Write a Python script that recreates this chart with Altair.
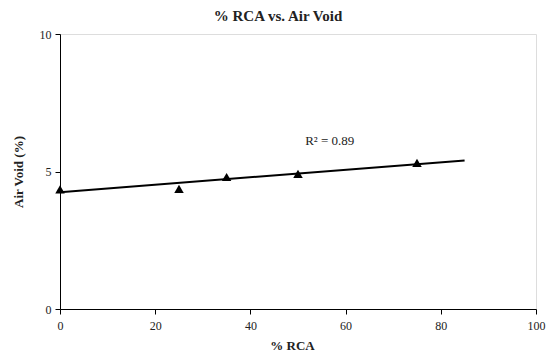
import altair as alt
import pandas as pd

rca = [0, 25, 35, 50, 75]
air_void = [4.35, 4.37, 4.80, 4.91, 5.31]
x_ticks = [0, 20, 40, 60, 80, 100]
y_ticks = [0, 5, 10]
r2_label = ["R² = 0.89"]
r2_pos_x = [51.5]
r2_pos_y = [6.1]

df = pd.DataFrame({"rca": rca, "av": air_void})
lab = pd.DataFrame({"x": r2_pos_x, "y": r2_pos_y, "t": r2_label})

FONT = "Liberation Serif"

xs = alt.Scale(domain=[0, 100], nice=False)
ys = alt.Scale(domain=[0, 10], nice=False)

xax = alt.Axis(values=x_ticks, grid=False, domainColor="black", tickColor="black",
               labelFont=FONT, labelFontSize=12, labelColor="#222", tickSize=5,
               titleFont=FONT, titleFontSize=13, titleFontWeight="bold", titleColor="#222",
               titlePadding=8, labelPadding=6, labelFlush=False, titleX=232)
yax = alt.Axis(values=y_ticks, grid=False, domainColor="black", tickColor="black",
               labelFont=FONT, labelFontSize=12, labelColor="#222", tickSize=5,
               titleFont=FONT, titleFontSize=13, titleFontWeight="bold", titleColor="#222",
               titlePadding=14, labelPadding=4)

base = alt.Chart(df)

pts = base.mark_point(shape="triangle-up", filled=True, color="black", size=90, opacity=1).encode(
    x=alt.X("rca:Q", scale=xs, axis=xax, title="% RCA"),
    y=alt.Y("av:Q", scale=ys, axis=yax, title="Air Void (%)"),
)

trend = base.transform_regression("rca", "av", extent=[0, 85]).mark_line(
    color="black", strokeWidth=2
).encode(x=alt.X("rca:Q", scale=xs), y=alt.Y("av:Q", scale=ys))

txt = alt.Chart(lab).mark_text(align="left", baseline="middle", font=FONT, fontSize=13, color="#222").encode(
    x=alt.X("x:Q", scale=xs), y=alt.Y("y:Q", scale=ys), text="t:N"
)

chart = (trend + pts + txt).properties(
    width=476, height=275,
    title=alt.TitleParams("% RCA vs. Air Void", font=FONT, fontSize=15, fontWeight="bold",
                          color="#222", anchor="middle", offset=4, dx=-20),
    autosize=alt.AutoSizeParams(type="none"),
    padding={"left": 60, "top": 34, "right": 17, "bottom": 45},
).configure_view(stroke="#888", strokeWidth=1).configure(background="white")

chart.save("out.html", embed_options={"renderer": "svg", "actions": False})
